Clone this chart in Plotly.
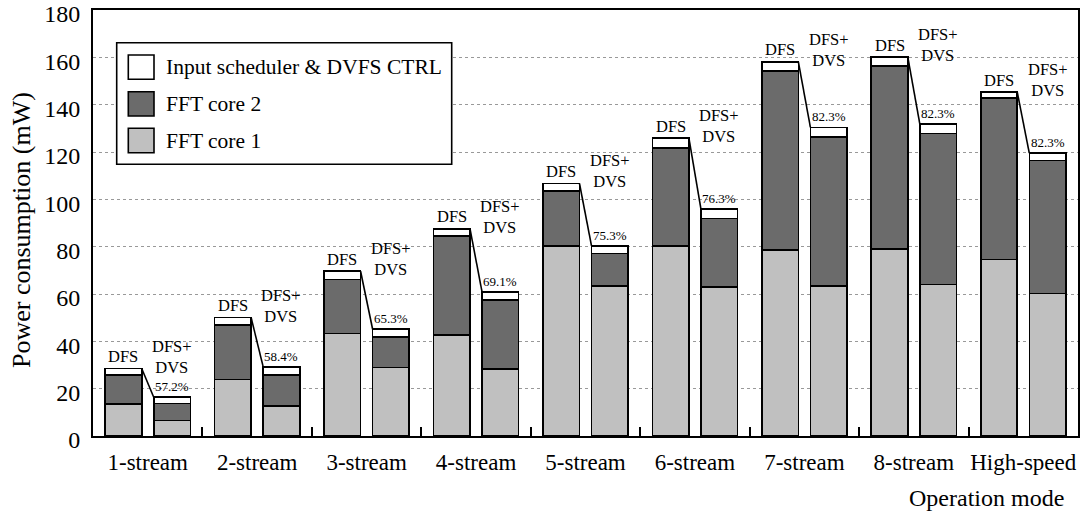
import plotly.graph_objects as go

categories = ["1-stream", "2-stream", "3-stream", "4-stream", "5-stream",
              "6-stream", "7-stream", "8-stream", "High-speed"]
# cumulative tops (mW)
dfs_core1_top = [13.4, 23.8, 43.3, 42.6, 80.3, 80.3, 78.6, 79.1, 74.6]
dfs_core2_top = [25.7, 46.8, 66.1, 84.4, 103.6, 121.8, 154.3, 156.3, 142.7]
dfs_total = [28.5, 50.0, 69.6, 87.5, 106.7, 125.9, 158.1, 160.1, 145.3]
dvs_core1_top = [6.6, 12.8, 28.9, 28.3, 63.4, 63.0, 63.4, 64.1, 60.2]
dvs_core2_top = [13.7, 25.7, 41.9, 57.4, 77.1, 91.9, 126.4, 127.9, 116.4]
dvs_total = [16.4, 29.2, 45.1, 60.8, 80.3, 95.9, 130.4, 131.8, 119.5]
percent_labels = ["57.2%", "58.4%", "65.3%", "69.1%", "75.3%", "76.3%", "82.3%", "82.3%", "82.3%"]
series_names = ["FFT core 1", "FFT core 2", "Input scheduler & DVFS CTRL"]
series_colors = ["#c0c0c0", "#6b6b6b", "#ffffff"]
y_ticks = [0, 20, 40, 60, 80, 100, 120, 140, 160, 180]

FONT = "Liberation Serif"
OFF = 0.222
BW = 0.334

n = len(categories)
x_dfs = [i - OFF for i in range(n)]
x_dvs = [i + OFF for i in range(n)]
xs = x_dfs + x_dvs

core1 = dfs_core1_top + dvs_core1_top
core2 = [b - a for a, b in zip(dfs_core1_top, dfs_core2_top)] + \
        [b - a for a, b in zip(dvs_core1_top, dvs_core2_top)]
sched = [b - a for a, b in zip(dfs_core2_top, dfs_total)] + \
        [b - a for a, b in zip(dvs_core2_top, dvs_total)]

fig = go.Figure()
for name, vals, col in zip(series_names, [core1, core2, sched], series_colors):
    fig.add_trace(go.Bar(x=xs, y=vals, name=name, width=BW,
                         marker=dict(color=col, line=dict(color="black", width=1.6)),
                         showlegend=False))

shapes = []
annotations = []
for i in range(n):
    shapes.append(dict(type="line", xref="x", yref="y",
                       x0=x_dfs[i] + BW / 2, y0=dfs_total[i],
                       x1=x_dvs[i] - BW / 2, y1=dvs_total[i],
                       line=dict(color="black", width=1.6)))
    annotations.append(dict(x=x_dfs[i], y=dfs_total[i], xref="x", yref="y",
                            text="DFS", showarrow=False, yanchor="middle", yshift=12,
                            font=dict(family=FONT, size=16.5, color="black")))
    annotations.append(dict(x=x_dvs[i], y=dfs_total[i], xref="x", yref="y",
                            text="DFS+<br>DVS", showarrow=False, yanchor="middle", yshift=12,
                            font=dict(family=FONT, size=16.5, color="black")))
    annotations.append(dict(x=x_dvs[i], y=dvs_total[i], xref="x", yref="y",
                            text=percent_labels[i], showarrow=False, yanchor="bottom", yshift=1,
                            font=dict(family=FONT, size=13, color="black")))

L, R, T, B = 93.0, 1078.0, 10.0, 436.0
def px(xp):
    return (xp - L) / (R - L)
def py(yp):
    return (B - yp) / (B - T)

shapes.append(dict(type="rect", xref="paper", yref="paper",
                   x0=px(116.7), x1=px(451.7), y0=py(164.3), y1=py(42.7),
                   line=dict(color="black", width=1.6), fillcolor="white", layer="above"))
legend_rows = [(series_names[2], series_colors[2], 55, 79.3),
               (series_names[1], series_colors[1], 91.7, 116),
               (series_names[0], series_colors[0], 128.3, 152.7)]
for name, col, yt, yb in legend_rows:
    shapes.append(dict(type="rect", xref="paper", yref="paper",
                       x0=px(128.3), x1=px(154), y0=py(yb), y1=py(yt),
                       line=dict(color="black", width=1.6), fillcolor=col, layer="above"))
    annotations.append(dict(x=px(164), y=py((yt + yb) / 2), xref="paper", yref="paper",
                            text=name, showarrow=False, xanchor="left", yanchor="middle",
                            font=dict(family=FONT, size=21.5, color="black")))

annotations.append(dict(x=px(1066), y=py(498), xref="paper", yref="paper", text="Operation mode",
                        showarrow=False, xanchor="right", yanchor="middle",
                        font=dict(family=FONT, size=24, color="black")))
annotations.append(dict(x=px(21), y=py(230), xref="paper", yref="paper",
                        text="Power consumption (mW)", textangle=-90,
                        showarrow=False, xanchor="center", yanchor="middle",
                        font=dict(family=FONT, size=26, color="black")))

fig.update_layout(
    width=1081, height=514,
    margin=dict(l=93, r=3, t=10, b=78, autoexpand=False),
    barmode="stack",
    plot_bgcolor="white", paper_bgcolor="white",
    shapes=shapes, annotations=annotations,
    font=dict(family=FONT, color="black"),
    xaxis=dict(range=[-0.5, n - 0.5], tickmode="array", tickvals=list(range(n)),
               ticktext=categories, ticks="", showgrid=False, zeroline=False,
               showline=True, linecolor="black", linewidth=2, mirror=True,
               automargin=False, ticklabeloverflow="allow", ticklabelstandoff=4,
               tickfont=dict(family=FONT, size=23, color="black"),
               minor=dict(tickmode="array", tickvals=[i + 0.5 for i in range(n - 1)],
                          ticks="inside", ticklen=9, tickwidth=2, tickcolor="black",
                          showgrid=False)),
    yaxis=dict(range=[0, 180], tickmode="array", tickvals=y_ticks,
               showgrid=True, gridcolor="#999999",
               griddash="dot", gridwidth=1, zeroline=False, showline=True,
               linecolor="black", linewidth=2, mirror=True, ticks="",
               automargin=False, ticklabeloverflow="allow", ticklabelstandoff=6,
               ticklabelshift=4,
               tickfont=dict(family=FONT, size=24, color="black")),
)

fig.write_html("out.html", config={"displayModeBar": False},
               post_script="document.body.style.margin='0';")
